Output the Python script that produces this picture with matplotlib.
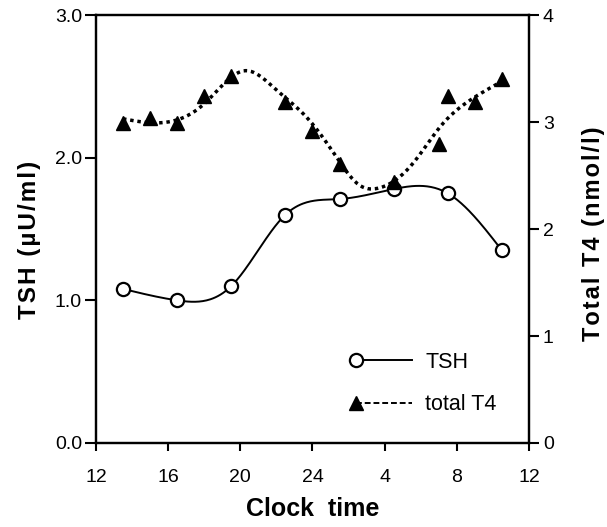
import numpy as np
import matplotlib
matplotlib.use("Agg")
import matplotlib.pyplot as plt
from matplotlib.legend_handler import HandlerLine2D

plt.rcParams['font.family'] = ['Liberation Sans', 'DejaVu Sans']

# sampling times (hours from noon of day 1, 36 = noon of day 2)
tsh_hours = [13.5, 16.5, 19.5, 22.5, 25.5, 28.5, 31.5, 34.5]
tsh_values = [1.08, 1.00, 1.10, 1.60, 1.71, 1.78, 1.75, 1.35]

t4_hours = [13.5, 15.0, 16.5, 18.0, 19.5, 22.5, 24.0, 25.5, 28.5, 31.0, 31.5, 33.0, 34.5]
t4_values = [2.99, 3.04, 2.99, 3.24, 3.43, 3.19, 2.92, 2.61, 2.44, 2.79, 3.24, 3.19, 3.40]

# knots of the fitted T4 rhythm curve
t4_fit_hours = [13.5, 16.5, 18.0, 20.3, 22.0, 23.7, 25.3, 26.6, 27.6, 29.6, 31.1, 32.7, 34.5]
t4_fit_values = [3.03, 3.02, 3.17, 3.48, 3.30, 3.04, 2.68, 2.41, 2.38, 2.62, 2.96, 3.20, 3.38]

x_ticks = [12, 16, 20, 24, 28, 32, 36]
x_ticklabels = ['12', '16', '20', '24', '4', '8', '12']


def natural_spline(x, y, xs):
    x = np.asarray(x, float)
    y = np.asarray(y, float)
    n = len(x)
    h = np.diff(x)
    A = np.zeros((n, n))
    r = np.zeros(n)
    A[0, 0] = A[-1, -1] = 1
    for i in range(1, n - 1):
        A[i, i - 1] = h[i - 1]
        A[i, i] = 2 * (h[i - 1] + h[i])
        A[i, i + 1] = h[i]
        r[i] = 3 * ((y[i + 1] - y[i]) / h[i] - (y[i] - y[i - 1]) / h[i - 1])
    c = np.linalg.solve(A, r)
    b = (y[1:] - y[:-1]) / h - h * (2 * c[:-1] + c[1:]) / 3
    d = (c[1:] - c[:-1]) / (3 * h)
    idx = np.clip(np.searchsorted(x, xs) - 1, 0, n - 2)
    dx = xs - x[idx]
    return y[idx] + b[idx] * dx + c[idx] * dx ** 2 + d[idx] * dx ** 3


def tracked(s):
    # loose letter spacing with hair spaces
    return '\u200a'.join(s)


class LeftMarker(HandlerLine2D):
    # legend key with a single marker at the left end of the line
    def create_artists(self, legend, orig_handle, xdescent, ydescent,
                       width, height, fontsize, trans):
        artists = super().create_artists(legend, orig_handle, xdescent, ydescent,
                                         width, height, fontsize, trans)
        artists[0].set_markevery([0])
        return artists


fig = plt.figure(figsize=(6.07, 5.27), dpi=100)
ax = fig.add_axes([0.158, 0.1594, 0.7135, 0.8121])
ax2 = ax.twinx()

xs = np.linspace(tsh_hours[0], tsh_hours[-1], 300)
ax.plot(xs, natural_spline(tsh_hours, tsh_values, xs), color='black', lw=1.4)
ax.plot(tsh_hours, tsh_values, 'o', mfc='white', mec='black', ms=9.5, mew=1.6)

xf = np.linspace(t4_fit_hours[0], t4_fit_hours[-1], 300)
ax2.plot(xf, natural_spline(t4_fit_hours, t4_fit_values, xf), color='black',
         lw=2.5, dashes=(1.0, 1.1), dash_capstyle='butt')
ax2.plot(t4_hours, t4_values, '^', color='black', ms=10)

h1, = ax2.plot([], [], color='black', lw=1.4, marker='o', mfc='white', mec='black',
               ms=9.5, mew=1.6)
h2, = ax2.plot([], [], color='black', lw=1.4, ls=(0, (3, 1.5)), marker='^', ms=10)
ax2.legend([h1, h2], ['TSH', 'total T4'], frameon=False, numpoints=2,
           handler_map={h1: LeftMarker(), h2: LeftMarker()},
           handlelength=3.2, handletextpad=0.3, labelspacing=1.0, fontsize=15.5,
           loc='lower left', bbox_to_anchor=(0.542, 0.02))

ax.set_xlim(12, 36)
ax.set_ylim(0, 3.0)
ax2.set_ylim(0, 4)
ax.set_xticks(x_ticks)
ax.set_xticklabels(x_ticklabels)
ax.set_yticks([0, 1, 2, 3])
ax.set_yticklabels(['0.0', '1.0', '2.0', '3.0'])
ax2.set_yticks([0, 1, 2, 3, 4])

for a in (ax, ax2):
    for s in a.spines.values():
        s.set_linewidth(1.6)
    a.tick_params(direction='out', length=7, width=1.5, labelsize=14, pad=3)
ax.tick_params(axis='y', length=8, pad=2)
ax.tick_params(axis='x', length=6, pad=13)

ax.set_xlabel('Clock  time', fontsize=18, fontweight='bold', labelpad=8)
ax.set_ylabel(tracked('TSH (\u00b5U/ml)'), fontsize=17.5, fontweight='bold', labelpad=10)
ax2.set_ylabel(tracked('Total T4 (nmol/l)'), fontsize=17, fontweight='bold', labelpad=20)
ax.yaxis.label.set_y(0.474)
ax2.yaxis.label.set_y(0.49)

fig.savefig('out.png', dpi=100)
